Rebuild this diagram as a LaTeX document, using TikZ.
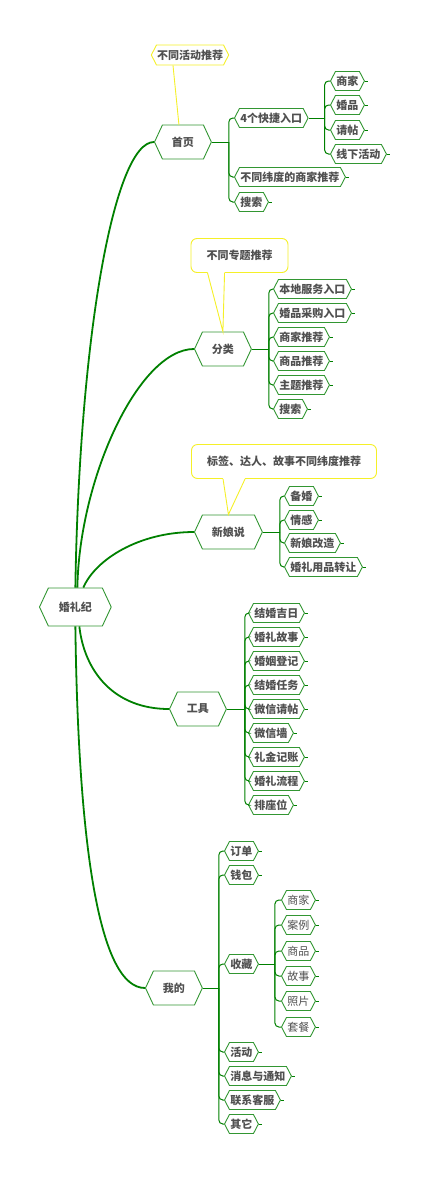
\documentclass[tikz,border=0pt]{standalone}
\usepackage{fontspec}
\setmainfont{Noto Sans CJK SC}
\usetikzlibrary{shapes.symbols}

\definecolor{branchgreen}{RGB}{0,128,0}
\definecolor{boxgreen}{RGB}{50,150,50}
\definecolor{notecol}{RGB}{245,240,40}
\definecolor{txtgray}{RGB}{80,80,80}

\tikzset{
  hexbox/.style={shape=signal, signal to=west and east, draw=boxgreen, fill=white,
    text=txtgray, font=\fontsize{11pt}{13pt}\selectfont\bfseries, line width=0.9pt},
  topic/.style={hexbox, signal pointer angle=130, minimum height=34pt,
    inner xsep=9.5pt, inner ysep=0pt, anchor=west},
  roottopic/.style={topic, minimum height=38pt, inner xsep=10.5pt},
  twig/.style={draw=branchgreen, line width=1pt},
  elbow/.style={twig, rounded corners=4pt},
  trunk/.style={draw=branchgreen, line width=1.8pt},
  leafp/.style={hexbox, signal pointer angle=125, minimum height=19pt,
    inner xsep=1pt, inner ysep=0pt, anchor=west},
  leaf/.style={leafp, append after command={(\tikzlastnode.east) edge[twig] ++(3pt,0)}},
  plainleaf/.style={leaf, font=\fontsize{11pt}{13pt}\selectfont},
  notehex/.style={hexbox, draw=notecol, signal pointer angle=125, minimum height=20pt,
    inner xsep=0.5pt, inner ysep=0pt},
  notebox/.style={draw=notecol, fill=white, rounded corners=6pt, line width=0.9pt,
    text=txtgray, font=\fontsize{11pt}{13pt}\selectfont\bfseries,
    minimum height=34pt, inner xsep=15.5pt, inner ysep=0pt},
  noteline/.style={draw=notecol, line width=0.9pt}
}

\begin{document}
\begin{tikzpicture}[x=1pt, y=-1pt]
  \useasboundingbox (0,0) rectangle (426,1181);

  % --- root ---
  \node[roottopic] (root) at (39,607) {婚礼纪};

  % --- main topics ---
  \node[topic] (home)  at (154,142) {首页};
  \node[topic] (cat)   at (194,349) {分类};
  \node[topic] (bride) at (194,532) {新娘说};
  \node[topic] (tools) at (169,709) {工具};
  \node[topic] (mine)  at (145,988) {我的};

  % --- root -> main topics ---
  \draw[trunk] (root.north) .. controls +(4,-250) and +(-40,0) .. (home.west);
  \draw[trunk] ([xshift=2pt]root.north) .. controls +(2,-110) and +(-55,0) .. (cat.west);
  \draw[trunk] ([xshift=8pt]root.north) .. controls +(12,-28) and +(-55,0) .. (bride.west);
  \draw[trunk] ([xshift=4pt]root.south) .. controls +(5,45) and +(-55,0) .. (tools.west);
  \draw[trunk] (root.south) .. controls +(3,225) and +(-45,0) .. (mine.west);

  % --- notes ---
  \node[notehex] (n1) at (190,55) {不同活动推荐};
  \draw[noteline] ([xshift=-17pt]n1.south) -- ([xshift=-4pt]home.north);

  \node[notebox] (n2) at (239.5,255.5) {不同专题推荐};
  \fill[white] ([xshift=17pt,yshift=1pt]n2.south west) -- (cat.north)
    -- ([xshift=34pt,yshift=1pt]n2.south west) -- cycle;
  \draw[noteline] ([xshift=17pt]n2.south west) -- (cat.north)
    -- ([xshift=34pt]n2.south west);

  \node[notebox] (n3) at (284,461.5) {标签、达人、故事不同纬度推荐};
  \fill[white] ([xshift=32pt,yshift=1pt]n3.south west) -- (bride.north)
    -- ([xshift=54pt,yshift=1pt]n3.south west) -- cycle;
  \draw[noteline] ([xshift=32pt]n3.south west) -- (bride.north)
    -- ([xshift=54pt]n3.south west);

  % --- 首页 ---
  \coordinate (hj) at ([xshift=17pt]home.east);
  \node[leafp] (h1) at (234,118) {4个快捷入口};
  \node[leaf]  (h2) at (234,177) {不同纬度的商家推荐};
  \node[leaf]  (h3) at (234,202) {搜索};
  \draw[twig] (home.east) -- (hj);
  \draw[elbow] (hj) |- (h1.west);
  \draw[elbow] (hj) |- (h2.west);
  \draw[elbow] (hj) |- (h3.west);

  % --- 4个快捷入口 ---
  \coordinate (qj) at ([xshift=16pt]h1.east);
  \node[leaf] (q1) at (330,81)  {商家};
  \node[leaf] (q2) at (330,105) {婚品};
  \node[leaf] (q3) at (330,130) {请帖};
  \node[leaf] (q4) at (330,154) {线下活动};
  \draw[twig] (h1.east) -- (qj);
  \draw[elbow] (qj) |- (q1.west);
  \draw[elbow] (qj) |- (q2.west);
  \draw[elbow] (qj) |- (q3.west);
  \draw[elbow] (qj) |- (q4.west);

  % --- 分类 ---
  \coordinate (cj) at ([xshift=17pt]cat.east);
  \node[leaf] (c1) at (273,289) {本地服务入口};
  \node[leaf] (c2) at (273,313) {婚品采购入口};
  \node[leaf] (c3) at (273,337) {商家推荐};
  \node[leaf] (c4) at (273,361) {商品推荐};
  \node[leaf] (c5) at (273,385) {主题推荐};
  \node[leaf] (c6) at (273,409) {搜索};
  \draw[twig] (cat.east) -- (cj);
  \draw[elbow] (cj) |- (c1.west);
  \draw[elbow] (cj) |- (c2.west);
  \draw[elbow] (cj) |- (c3.west);
  \draw[elbow] (cj) |- (c4.west);
  \draw[elbow] (cj) |- (c5.west);
  \draw[elbow] (cj) |- (c6.west);

  % --- 新娘说 ---
  \coordinate (bj) at ([xshift=17pt]bride.east);
  \node[leaf] (b1) at (284,496) {备婚};
  \node[leaf] (b2) at (284,520) {情感};
  \node[leaf] (b3) at (284,543) {新娘改造};
  \node[leaf] (b4) at (284,567) {婚礼用品转让};
  \draw[twig] (bride.east) -- (bj);
  \draw[elbow] (bj) |- (b1.west);
  \draw[elbow] (bj) |- (b2.west);
  \draw[elbow] (bj) |- (b3.west);
  \draw[elbow] (bj) |- (b4.west);

  % --- 工具 ---
  \coordinate (tj) at ([xshift=18pt]tools.east);
  \node[leaf] (t1) at (248,613) {结婚吉日};
  \node[leaf] (t2) at (248,637) {婚礼故事};
  \node[leaf] (t3) at (248,661) {婚姻登记};
  \node[leaf] (t4) at (248,685) {结婚任务};
  \node[leaf] (t5) at (248,709) {微信请帖};
  \node[leaf] (t6) at (248,733) {微信墙};
  \node[leaf] (t7) at (248,757) {礼金记账};
  \node[leaf] (t8) at (248,781) {婚礼流程};
  \node[leaf] (t9) at (248,805) {排座位};
  \draw[twig] (tools.east) -- (tj);
  \draw[elbow] (tj) |- (t1.west);
  \draw[elbow] (tj) |- (t2.west);
  \draw[elbow] (tj) |- (t3.west);
  \draw[elbow] (tj) |- (t4.west);
  \draw[elbow] (tj) |- (t5.west);
  \draw[elbow] (tj) |- (t6.west);
  \draw[elbow] (tj) |- (t7.west);
  \draw[elbow] (tj) |- (t8.west);
  \draw[elbow] (tj) |- (t9.west);

  % --- 我的 ---
  \coordinate (mj) at ([xshift=16pt]mine.east);
  \node[leaf]  (m1) at (224,851)  {订单};
  \node[leaf]  (m2) at (224,875)  {钱包};
  \node[leafp] (m3) at (224,964)  {收藏};
  \node[leaf]  (m4) at (224,1052) {活动};
  \node[leaf]  (m5) at (224,1076) {消息与通知};
  \node[leaf]  (m6) at (224,1100) {联系客服};
  \node[leaf]  (m7) at (224,1124) {其它};
  \draw[twig] (mine.east) -- (mj);
  \draw[elbow] (mj) |- (m1.west);
  \draw[elbow] (mj) |- (m2.west);
  \draw[elbow] (mj) |- (m3.west);
  \draw[elbow] (mj) |- (m4.west);
  \draw[elbow] (mj) |- (m5.west);
  \draw[elbow] (mj) |- (m6.west);
  \draw[elbow] (mj) |- (m7.west);

  % --- 收藏 ---
  \coordinate (fj) at ([xshift=16pt]m3.east);
  \node[plainleaf] (f1) at (281,900)  {商家};
  \node[plainleaf] (f2) at (281,925)  {案例};
  \node[plainleaf] (f3) at (281,951)  {商品};
  \node[plainleaf] (f4) at (281,976)  {故事};
  \node[plainleaf] (f5) at (281,1001) {照片};
  \node[plainleaf] (f6) at (281,1027) {套餐};
  \draw[twig] (m3.east) -- (fj);
  \draw[elbow] (fj) |- (f1.west);
  \draw[elbow] (fj) |- (f2.west);
  \draw[elbow] (fj) |- (f3.west);
  \draw[elbow] (fj) |- (f4.west);
  \draw[elbow] (fj) |- (f5.west);
  \draw[elbow] (fj) |- (f6.west);

\end{tikzpicture}
\end{document}
